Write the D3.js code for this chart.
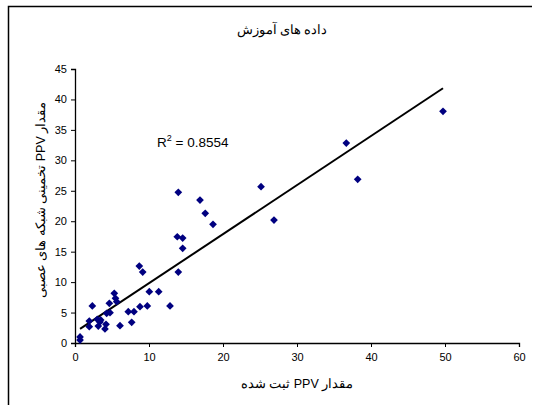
<!DOCTYPE html>
<html><head><meta charset="utf-8">
<script src="https://cdn.jsdelivr.net/npm/d3@7"></script>
<style>body{margin:0;background:#fff}svg{display:block}text{font-family:"Liberation Sans",Arial,sans-serif}</style>
</head><body>
<svg id="c" width="541" height="405"></svg>
<script>
const observed = [0.68,0.68,2.34,1.93,1.93,3.01,3.15,3.38,3.47,4.05,4.19,4.28,4.73,4.64,5.31,5.47,5.64,6.08,7.2,7.66,7.97,8.78,9.77,8.69,9.15,10.04,11.31,12.84,13.96,13.82,14.55,14.55,13.96,16.89,17.6,18.65,25.14,26.89,36.66,38.2,49.73];
const predicted = [0.49,0.99,6.08,3.61,2.68,3.89,2.79,3.45,3.78,2.30,3.07,4.88,4.98,6.52,8.16,7.34,6.78,2.84,5.14,3.40,5.14,5.96,6.08,12.64,11.66,8.42,8.42,6.08,11.66,17.45,17.24,15.55,24.75,23.48,21.3,19.49,25.67,20.2,32.84,26.88,38.05];
const xTicks = [0,10,20,30,40,50,60];
const yTicks = [0,5,10,15,20,25,30,35,40,45];
const title = "داده های آموزش";
const xLabel = "مقدار PPV ثبت شده";
const yLabel = "مقدار PPV تخمینی شبکه های عصبی";
const r2 = "0.8554";

const svg = d3.select("#c");
svg.append("path").attr("d","M8.5,405 L8.5,6.5 L532,6.5").attr("fill","none").attr("stroke","#000").attr("stroke-width",1.5);

const x = d3.scaleLinear().domain([0,60]).range([75,519]);
const y = d3.scaleLinear().domain([0,45]).range([343,69]);

const xa = svg.append("g").attr("transform","translate(0,343)").call(d3.axisBottom(x).tickValues(xTicks).tickSize(4).tickPadding(6));
const ya = svg.append("g").attr("transform","translate(75,0)").call(d3.axisLeft(y).tickValues(yTicks).tickSize(4).tickPadding(4));
[xa,ya].forEach(a=>{a.selectAll("text").attr("font-size",11).attr("fill","#000").style("font-family","'Liberation Sans',Arial,sans-serif");a.selectAll("line,path").attr("stroke","#000");});
xa.select(".domain").attr("stroke-width",1.3);
ya.select(".domain").attr("stroke-width",1.3);

const n = observed.length;
const mx = d3.mean(observed), my = d3.mean(predicted);
let sxy=0,sxx=0;
for(let i=0;i<n;i++){sxy+=(observed[i]-mx)*(predicted[i]-my);sxx+=(observed[i]-mx)**2;}
const b = sxy/sxx, a = my-b*mx;
const [x0,x1] = d3.extent(observed);
svg.append("line").attr("x1",x(x0)).attr("y1",y(a+b*x0)).attr("x2",x(x1)).attr("y2",y(a+b*x1)).attr("stroke","#000").attr("stroke-width",2);

const sym = d3.symbol().type(d3.symbolSquare).size(30);
svg.append("g").selectAll("path").data(observed).join("path")
 .attr("d",sym).attr("fill","#000080")
 .attr("transform",(d,i)=>`translate(${x(d)},${y(predicted[i])}) rotate(45)`);

const pf = "'DejaVu Sans',sans-serif";
svg.append("text").attr("x",282).attr("y",34).attr("text-anchor","middle").attr("font-size",12.5).attr("font-family",pf).text(title);
svg.append("text").attr("x",297).attr("y",388).attr("text-anchor","middle").attr("font-size",12.5).attr("font-family",pf)
  .attr("direction","rtl").style("direction","rtl").text("\u200F"+xLabel);
svg.append("text").attr("transform","translate(45,200) rotate(-90)").attr("text-anchor","middle").attr("font-size",12.5).attr("font-family",pf)
  .attr("direction","rtl").style("direction","rtl").text("\u200F"+yLabel);

const rt = svg.append("text").attr("x",157).attr("y",147).attr("font-size",13.5);
rt.append("tspan").text("R");
rt.append("tspan").attr("dy",-6).attr("font-size",9).text("2");
rt.append("tspan").attr("dy",6).text(" = "+r2);
</script>
</body></html>
